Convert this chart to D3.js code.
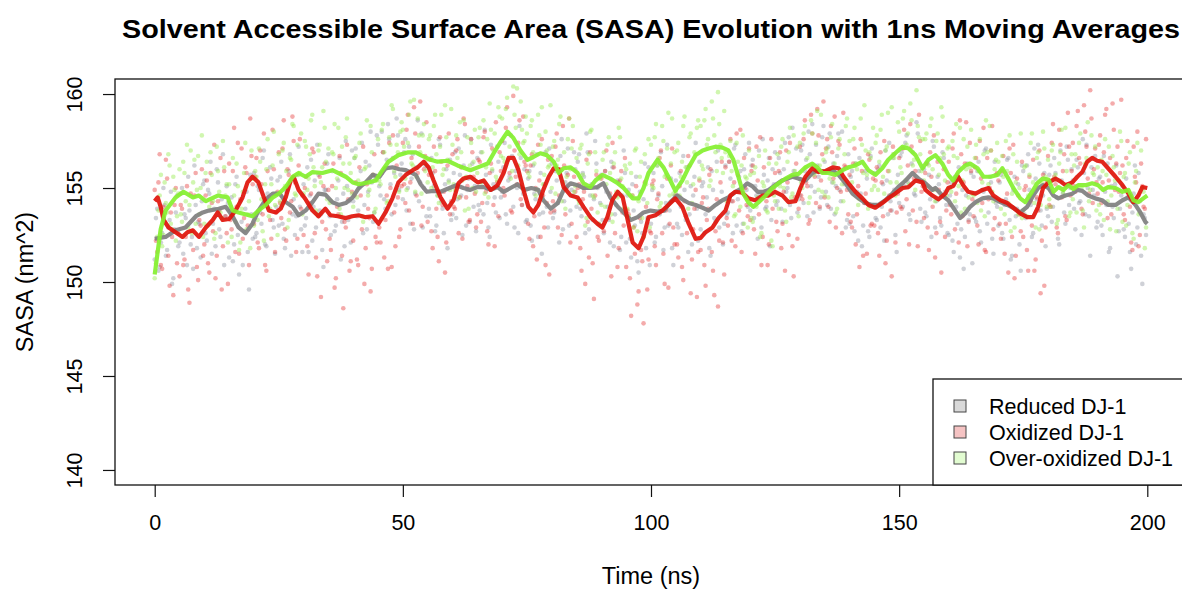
<!DOCTYPE html>
<html>
<head>
<meta charset="utf-8">
<script src="https://cdn.jsdelivr.net/npm/d3@7"></script>
<style>
  body { margin: 0; background: #fff; }
  text { font-family: "Liberation Sans", Arial, Helvetica, sans-serif; fill: #000; }
</style>
</head>
<body>
<div id="chart"></div>
<script>
const seriesNames = ["Reduced DJ-1", "Oxidized DJ-1", "Over-oxidized DJ-1"];
const xTicks = [0, 50, 100, 150, 200];
const yTicks = [140, 145, 150, 155, 160];
const frameStep = 0.5; // ns between frames of one set; set B is offset by half a step

// raw SASA frames (nm^2), set A at 0, 0.5, 1 ... ns
const reducedRaw = [
  151.2,153.9,150.8,152.6,154.1,151.7,153.3,149.9,152.8,154.6,
  152.1,155.0,153.6,150.9,153.8,152.4,156.2,151.8,153.1,154.3,
  155.4,152.2,154.7,151.5,153.9,156.0,152.8,154.4,150.9,155.1,
  151.3,154.5,152.0,155.6,150.4,153.2,152.7,154.8,149.6,153.6,
  155.8,152.6,154.9,153.1,157.0,151.9,154.3,155.5,152.9,154.0,
  153.0,156.4,152.3,154.8,155.9,151.4,154.4,153.5,157.2,152.8,
  155.2,153.4,151.6,156.5,154.0,152.9,155.7,153.6,150.8,154.9,
  156.8,152.5,154.2,153.0,155.4,151.2,154.7,157.5,153.3,152.1,
  154.3,157.1,153.8,155.9,152.6,156.4,154.8,158.0,153.2,155.5,
  157.3,154.6,156.9,153.9,158.4,155.2,156.6,154.1,157.8,155.7,
  154.4,157.6,155.0,153.1,156.8,154.7,158.6,155.3,152.9,156.2,
  156.1,153.5,155.8,152.7,154.6,157.3,153.9,155.2,151.8,156.5,
  153.6,156.9,154.4,155.7,152.5,157.8,154.9,153.2,156.3,155.1,
  156.6,153.8,155.3,158.1,154.2,152.4,155.9,154.5,157.2,153.4,
  154.8,157.4,153.1,155.6,156.7,152.9,155.0,158.3,154.1,156.0,
  153.3,155.9,152.2,154.7,156.8,153.6,151.5,155.2,154.0,157.1,
  156.3,153.7,155.4,152.1,157.6,154.3,155.8,153.0,154.9,156.9,
  154.0,156.8,153.5,155.6,157.9,152.8,155.2,154.4,156.3,153.1,
  155.7,152.6,154.8,153.3,156.4,151.9,154.1,155.3,152.4,157.0,
  152.1,154.9,151.3,153.8,155.6,150.5,153.2,154.4,151.8,156.1,
  153.1,155.8,152.4,154.6,156.9,151.7,154.2,153.0,155.5,150.9,
  155.4,152.9,154.0,156.7,153.3,151.6,155.1,154.6,157.4,152.2,
  152.8,155.3,153.6,156.1,151.4,154.9,153.2,157.0,154.3,152.0,
  156.2,153.7,155.5,152.6,157.3,154.4,155.9,153.1,156.8,154.0,
  153.8,156.5,155.1,152.3,154.7,157.6,153.9,155.4,151.9,156.0,
  156.9,154.3,155.8,153.2,157.4,155.0,154.1,158.2,155.6,153.7,
  154.6,157.3,155.9,153.5,156.8,158.4,154.8,156.2,153.9,157.7,
  156.4,154.1,157.9,155.3,153.6,156.7,154.9,158.0,155.2,153.3,
  153.1,155.9,152.7,154.8,156.6,151.9,154.2,155.5,152.4,157.1,
  155.8,153.3,156.2,154.0,152.2,155.4,157.4,153.8,154.9,151.6,
  154.2,156.9,155.1,157.8,153.6,156.3,154.7,158.5,155.9,153.2,
  156.0,153.5,155.7,152.4,157.2,154.3,155.2,153.0,156.6,154.1,
  152.5,155.3,151.6,154.0,156.1,152.8,150.7,154.6,153.3,155.8,
  155.6,153.2,156.4,152.1,154.8,157.1,153.7,155.3,151.5,154.2,
  153.0,155.7,152.3,154.4,156.6,151.2,154.9,153.5,155.2,150.6,
  155.9,153.4,156.8,154.1,152.6,155.5,157.3,153.8,154.6,151.9,
  153.5,156.2,154.0,155.8,152.3,157.0,154.7,153.1,156.5,155.0,
  155.4,152.8,156.1,154.3,157.6,153.6,155.0,151.4,154.9,156.7,
  153.2,155.6,152.5,154.8,156.3,151.8,154.0,155.2,150.3,153.9,
  155.1,152.4,154.5,151.6,153.7,156.2,152.9,154.3,149.9,153.4
];
const oxidizedRaw = [
  154.9,151.6,156.8,150.7,153.2,155.5,149.8,152.4,154.1,151.0,
  150.3,153.9,151.2,155.1,148.9,152.7,154.6,150.8,153.3,156.0,
  152.0,155.4,150.5,154.2,157.3,151.4,153.8,149.6,155.9,152.6,
  156.3,152.8,158.2,154.0,151.5,157.1,153.4,155.8,150.9,156.7,
  153.1,156.6,151.8,155.2,157.9,150.6,154.5,152.3,156.0,153.7,
  156.9,153.4,158.6,152.2,155.7,154.3,157.5,151.6,156.2,153.9,
  152.5,155.6,150.4,154.7,156.9,151.3,153.5,149.2,155.1,152.8,
  154.9,151.7,156.3,150.2,153.6,155.8,148.6,152.9,154.4,151.1,
  152.2,155.3,150.9,154.6,157.2,151.8,153.9,149.5,155.7,152.4,
  155.6,152.1,156.9,153.3,150.7,155.0,157.8,151.9,154.5,152.8,
  157.4,154.2,158.9,155.3,153.1,157.9,155.8,159.6,154.0,156.7,
  153.2,156.5,151.8,155.9,152.4,157.7,154.1,150.5,156.2,153.6,
  156.8,153.9,157.6,154.5,152.3,158.4,155.1,153.3,156.9,154.7,
  153.6,156.4,154.2,158.0,152.7,155.8,157.1,151.9,155.3,156.9,
  157.5,154.6,159.3,155.8,153.7,157.0,155.2,158.6,154.1,156.4,
  155.9,152.3,156.8,153.5,151.2,155.4,157.6,152.9,154.2,150.4,
  156.7,153.8,157.9,154.6,152.5,156.2,155.0,158.7,153.1,155.6,
  152.4,155.2,150.6,154.8,156.5,151.3,153.9,149.1,155.7,152.2,
  155.5,152.7,157.0,153.4,150.3,156.1,154.6,151.8,155.9,153.0,
  150.8,153.6,148.2,152.9,155.1,149.5,151.7,147.8,154.0,151.2,
  152.6,155.4,150.9,154.7,157.0,151.5,153.8,149.7,156.2,152.9,
  154.6,151.3,155.9,150.1,153.5,156.7,149.4,152.8,154.9,151.6,
  151.7,154.5,149.8,153.9,156.0,150.6,152.7,148.7,155.3,152.1,
  156.1,153.0,157.6,154.3,151.9,155.7,158.1,152.6,155.0,153.5,
  153.3,156.2,151.5,155.4,157.7,152.4,154.8,150.9,156.6,153.9,
  155.8,152.7,156.9,153.1,150.6,155.3,157.4,151.9,154.5,152.3,
  157.2,154.4,158.6,155.1,153.3,157.9,155.6,159.2,154.0,156.8,
  154.5,157.6,153.2,156.9,158.8,155.0,157.3,152.6,156.2,154.9,
  155.7,152.9,157.1,153.6,150.8,155.9,154.2,151.5,156.5,153.1,
  153.0,156.1,151.4,155.3,157.5,152.2,154.6,150.3,156.8,153.7,
  156.6,153.9,158.1,154.4,152.0,157.2,155.5,153.2,158.9,154.8,
  153.4,156.3,151.7,155.6,157.8,152.6,154.9,150.5,156.0,153.8,
  156.4,153.6,157.9,154.7,152.1,156.8,155.3,158.5,153.2,155.9,
  153.5,156.6,152.0,155.5,158.2,151.6,154.4,157.0,152.8,155.7,
  155.4,152.3,156.7,153.1,150.5,155.8,157.3,151.4,154.6,152.7,
  152.4,155.1,150.6,154.3,156.5,151.2,153.8,149.4,155.7,152.9,
  156.7,154.0,158.4,155.2,152.6,157.3,155.9,153.5,159.0,154.6,
  157.4,154.8,159.1,156.3,153.6,158.0,155.5,160.2,154.2,157.1,
  154.7,157.8,155.3,158.9,153.4,156.6,159.5,154.9,157.2,155.8,
  156.2,153.3,157.5,154.0,151.7,155.6,158.0,152.5,155.1,153.9
];
const overOxidizedRaw = [
  150.2,152.4,154.6,151.9,155.3,153.7,156.2,152.8,154.9,153.5,
  156.0,153.2,155.8,157.3,154.1,152.6,156.5,154.9,153.6,157.8,
  153.1,156.4,154.0,155.7,152.3,157.2,154.8,153.4,156.1,155.2,
  155.2,152.4,154.6,156.3,151.7,153.9,155.8,152.8,154.3,157.0,
  153.0,155.6,157.1,154.4,152.2,156.0,153.5,155.2,158.0,154.7,
  156.8,154.1,157.4,155.9,153.3,156.5,158.3,154.6,155.7,157.9,
  154.7,157.2,155.5,158.6,156.1,153.8,157.0,155.3,159.1,156.4,
  157.1,154.3,156.8,155.0,158.2,153.6,156.3,157.7,154.9,155.8,
  154.0,156.7,155.4,157.9,153.2,156.1,154.6,158.3,155.7,153.9,
  157.6,155.2,158.4,156.0,154.3,157.3,159.2,155.6,156.9,158.0,
  158.1,155.5,157.4,159.6,156.2,154.8,158.7,156.9,157.8,155.9,
  155.3,157.8,156.1,158.9,154.6,157.2,155.7,159.4,156.5,154.9,
  157.3,154.9,156.6,158.5,155.4,153.8,157.7,156.2,155.0,158.1,
  155.8,158.2,156.9,154.7,157.6,159.5,156.0,157.9,155.4,158.8,
  158.7,156.4,159.8,157.2,155.9,158.9,160.3,156.8,158.1,157.5,
  157.9,155.6,158.6,156.3,154.9,157.8,159.3,155.7,157.0,156.2,
  155.0,157.5,156.2,158.4,154.3,156.9,155.6,158.7,157.1,154.8,
  156.6,154.2,157.3,155.0,153.4,156.8,158.1,154.5,155.9,153.1,
  154.1,156.9,155.2,157.7,153.6,156.3,154.8,158.2,155.5,153.9,
  156.0,153.5,155.8,152.9,157.1,154.3,156.4,152.4,155.2,157.6,
  157.3,155.0,158.4,156.6,154.2,157.5,155.7,159.0,156.3,154.7,
  154.8,157.4,155.6,158.3,156.1,153.9,157.9,155.2,156.8,158.6,
  158.3,156.0,159.2,157.6,155.4,158.7,156.9,160.1,157.3,155.8,
  156.9,154.4,157.5,155.1,153.6,156.4,154.0,157.8,155.6,152.9,
  155.7,153.2,156.1,154.5,152.4,155.3,157.0,153.7,154.9,151.9,
  154.3,156.8,155.1,157.6,153.8,156.4,158.2,154.7,155.9,157.2,
  157.4,155.0,158.3,156.6,154.5,157.9,155.8,159.1,156.2,154.8,
  154.6,157.1,155.5,158.4,156.3,153.9,157.6,155.2,156.8,158.7,
  157.5,155.3,158.2,156.0,154.4,157.3,159.4,155.7,156.9,154.9,
  155.1,157.8,156.4,158.9,154.7,157.2,155.9,159.3,156.6,155.3,
  158.0,155.8,159.1,157.3,155.2,158.6,156.5,160.2,157.7,155.9,
  155.4,157.9,156.2,158.7,154.9,157.5,155.7,159.3,156.8,154.6,
  157.2,154.8,156.7,158.4,155.1,153.7,157.6,156.0,154.5,158.1,
  154.6,157.3,155.9,153.8,156.8,158.6,155.2,157.0,154.3,156.5,
  156.4,153.9,155.6,157.5,154.2,152.7,156.8,155.3,153.6,157.9,
  153.8,156.2,154.6,157.4,155.3,152.9,156.9,154.1,158.0,155.6,
  156.5,154.0,157.3,155.7,153.3,156.9,154.8,158.2,155.2,153.7,
  154.4,156.8,155.1,157.9,153.8,156.3,158.5,154.9,155.8,157.2,
  156.1,153.6,155.9,157.6,154.3,152.8,156.7,155.4,153.9,158.0,
  153.2,155.8,154.1,156.9,152.6,155.3,157.4,153.7,155.0,151.8
];

// raw SASA frames, set B at 0.25, 0.75, 1.25 ... ns
const reducedRawB = [
  153.4,150.6,152.1,155.0,151.4,152.9,154.8,150.2,153.7,151.9,
  154.7,151.5,153.4,155.6,152.0,150.7,154.1,153.2,151.3,155.2,
  152.6,154.9,156.4,153.1,151.9,155.3,152.4,156.8,153.5,154.2,
  153.8,151.1,155.2,152.5,154.3,150.9,153.9,151.6,155.7,152.3,
  152.4,155.1,153.7,156.6,152.0,154.7,156.1,153.3,151.5,155.4,
  155.6,153.1,151.8,154.9,156.8,153.6,152.5,155.7,154.0,151.6,
  153.0,156.1,154.6,152.2,155.4,157.3,153.8,151.7,154.9,156.3,
  153.5,155.9,152.7,154.4,156.6,153.2,151.9,155.1,154.3,157.0,
  156.6,153.5,155.0,157.4,154.1,152.8,156.2,155.3,153.7,157.8,
  155.1,158.0,154.4,156.5,157.6,153.6,155.8,158.7,154.9,156.3,
  156.9,153.8,157.2,155.5,152.8,156.1,154.3,157.9,155.0,153.5,
  153.9,156.6,155.1,153.0,157.6,154.3,152.6,156.0,155.4,153.3,
  155.8,153.4,157.1,154.6,156.2,153.0,155.5,157.6,154.0,152.7,
  154.1,156.9,153.6,155.7,152.9,157.3,155.2,153.7,156.4,154.5,
  156.1,153.6,155.4,157.8,154.0,155.9,152.6,156.6,154.7,153.2,
  155.5,153.0,156.2,154.4,152.4,155.8,153.7,156.9,152.9,154.8,
  153.4,155.9,154.2,156.7,152.8,155.3,157.1,153.8,154.6,156.0,
  156.4,153.9,155.8,152.6,156.9,154.6,153.3,157.5,155.0,154.2,
  153.3,155.9,154.0,152.1,156.1,153.6,155.4,151.7,154.6,155.8,
  154.6,152.3,155.2,153.0,151.1,154.8,152.6,156.3,153.4,150.9,
  154.9,152.1,156.2,153.6,155.1,152.9,157.3,153.8,151.8,154.6,
  153.1,155.8,152.5,154.9,156.1,153.6,152.0,155.6,153.9,156.4,
  155.1,152.6,154.5,151.8,155.9,153.4,156.4,152.9,154.8,153.1,
  153.6,156.4,154.3,157.1,153.0,155.6,152.7,156.0,154.9,157.4,
  156.2,153.4,154.6,157.0,152.9,155.7,154.0,156.6,153.3,155.2,
  154.1,156.6,153.9,156.0,154.8,157.7,153.4,155.9,157.1,154.4,
  157.0,154.2,156.5,158.0,155.1,153.7,157.3,155.6,154.5,158.3,
  154.8,157.2,153.9,156.3,155.1,157.9,154.3,156.0,152.9,156.8,
  155.6,153.5,156.3,152.2,154.7,153.0,155.9,152.7,156.7,154.1,
  153.4,156.0,152.9,155.2,157.0,153.6,154.3,156.6,152.5,155.7,
  156.7,154.0,157.4,155.3,153.3,156.9,154.6,157.9,153.9,156.1,
  153.7,156.3,154.4,157.5,152.9,155.6,153.4,156.9,154.8,152.6,
  154.6,152.2,155.6,153.1,151.3,154.9,152.4,156.3,153.6,151.0,
  153.4,155.9,152.7,154.9,157.0,153.1,155.6,152.3,156.4,154.0,
  155.3,152.6,154.1,156.5,153.3,151.4,155.6,153.9,152.0,156.2,
  153.6,156.2,154.9,152.4,157.1,154.4,156.3,153.0,155.8,153.9,
  155.7,153.2,156.6,154.5,152.0,155.4,153.7,157.2,154.1,156.0,
  153.9,156.5,154.2,152.5,155.8,157.3,153.5,156.1,154.6,152.9,
  155.5,153.0,156.7,154.1,151.6,155.1,153.4,156.2,152.7,154.6,
  152.8,155.5,153.1,150.7,154.7,152.0,155.8,151.4,153.6,152.5
];
const oxidizedRawB = [
  152.2,155.3,150.9,154.0,156.5,151.4,153.7,149.3,155.0,152.6,
  154.1,150.9,152.4,149.6,154.7,151.7,155.8,150.1,153.0,151.4,
  154.6,151.0,155.8,152.7,150.2,154.3,156.6,151.9,153.5,149.9,
  153.3,155.9,151.6,157.4,154.4,152.3,156.1,153.0,158.7,155.2,
  155.6,152.1,157.0,153.6,150.9,155.9,153.3,158.1,151.6,154.8,
  154.2,157.1,152.8,156.0,153.7,158.8,155.3,152.3,157.6,154.6,
  155.0,151.9,154.2,157.1,152.6,150.3,155.6,153.2,156.3,151.1,
  152.3,155.1,149.7,154.0,156.7,151.4,153.2,157.3,150.6,154.8,
  154.6,151.2,156.1,152.8,149.9,155.2,153.4,150.7,156.8,152.1,
  152.9,155.8,151.3,154.6,157.4,150.8,153.7,156.2,152.4,155.1,
  155.2,158.1,153.8,156.6,159.3,154.6,157.2,153.0,156.0,158.5,
  155.7,152.7,157.2,153.9,151.1,156.4,154.8,152.1,157.9,154.3,
  154.0,157.0,152.6,156.1,158.7,154.5,153.2,157.6,155.6,152.9,
  156.5,153.2,157.7,154.8,152.0,156.3,154.1,158.5,153.5,155.9,
  155.0,158.2,156.5,153.8,159.9,155.6,157.4,154.4,158.8,156.2,
  153.1,156.2,151.9,155.0,157.3,152.4,154.6,150.9,156.5,153.7,
  154.3,157.2,152.9,156.0,158.3,153.6,155.7,152.1,157.5,154.8,
  155.0,151.8,154.4,149.9,153.2,156.9,151.0,154.6,152.4,155.6,
  153.0,155.9,151.4,154.7,157.4,152.6,150.8,155.4,153.7,156.6,
  153.8,150.2,154.6,151.5,148.8,153.4,151.1,155.3,149.6,152.7,
  155.2,151.9,154.4,156.6,152.6,149.9,155.5,153.1,157.1,152.0,
  152.0,155.1,150.8,154.3,152.6,156.2,151.2,153.9,149.2,155.4,
  154.2,150.9,153.3,155.7,151.6,149.3,154.4,152.2,156.4,150.4,
  153.4,156.4,152.2,155.3,157.9,153.8,151.6,156.6,154.1,157.1,
  155.9,152.8,157.2,153.6,150.9,156.1,154.3,152.0,157.6,155.0,
  153.2,155.9,151.8,154.8,157.0,152.5,155.6,150.3,156.3,153.9,
  154.6,157.6,155.3,153.1,158.9,156.2,154.2,157.8,155.4,159.6,
  157.1,154.0,158.3,155.5,152.9,157.5,154.8,159.0,156.1,153.6,
  153.2,156.3,152.0,155.1,157.6,151.4,154.7,156.8,153.0,155.5,
  155.4,152.6,156.9,153.5,151.0,155.9,153.8,157.2,152.1,154.7,
  154.0,157.1,152.7,156.2,158.4,153.8,155.9,151.9,157.5,155.1,
  155.8,152.9,156.9,154.0,151.3,156.4,153.2,157.5,152.4,155.3,
  154.1,157.1,152.8,155.7,158.6,153.5,156.3,151.9,157.4,154.4,
  156.1,153.0,157.5,154.2,151.7,156.6,155.0,158.3,153.4,155.8,
  153.1,155.9,151.5,154.7,157.1,152.4,150.2,155.5,153.6,156.4,
  154.9,151.7,155.6,153.0,150.6,154.5,157.0,152.2,149.8,155.3,
  154.1,157.4,155.6,152.9,158.1,154.5,156.8,153.3,157.2,155.9,
  155.1,158.3,156.6,153.9,159.4,157.2,154.7,158.7,156.0,155.3,
  157.3,154.2,156.9,159.2,155.4,153.6,158.1,156.3,154.8,159.7,
  153.6,156.6,154.5,152.1,157.2,155.3,151.9,156.3,154.0,157.6
];
const overOxidizedRawB = [
  151.0,153.8,155.7,152.5,154.2,156.8,153.1,155.6,152.2,154.7,
  153.6,156.4,154.3,152.9,157.0,155.3,153.1,156.7,155.0,152.4,
  155.8,153.0,156.9,154.3,152.6,155.9,153.7,157.5,154.6,152.1,
  154.0,156.6,153.2,155.1,152.1,154.8,157.4,153.6,151.8,155.5,
  155.9,153.3,156.4,152.7,155.2,157.6,153.9,156.2,154.1,152.5,
  154.3,157.0,155.1,152.9,156.6,158.4,154.7,157.3,155.8,153.6,
  157.5,154.9,156.8,158.9,155.1,153.6,157.3,156.1,158.2,154.4,
  154.2,156.9,158.4,155.5,153.9,157.2,155.0,158.7,156.3,154.7,
  156.6,154.5,157.4,153.5,156.0,158.6,154.9,156.9,153.7,155.4,
  155.4,158.1,156.9,154.2,157.7,159.4,155.9,157.3,154.8,158.5,
  157.2,154.9,158.9,156.3,159.7,155.6,157.8,154.7,158.4,156.5,
  157.6,155.0,158.3,156.8,154.2,158.9,156.0,157.7,155.3,159.2,
  155.2,157.8,154.5,156.9,158.6,155.6,153.9,157.4,156.4,154.8,
  157.7,155.3,158.6,156.1,154.5,158.1,157.0,155.6,159.3,156.7,
  156.6,159.2,157.9,155.5,160.4,158.2,156.2,159.6,157.4,158.8,
  155.8,158.3,156.9,154.6,158.9,157.3,155.2,158.0,156.1,159.4,
  157.2,154.7,156.5,158.8,155.3,153.9,157.6,156.0,158.3,155.1,
  154.4,157.1,155.7,153.0,156.3,158.0,154.6,156.9,153.7,155.5,
  156.5,154.0,157.3,155.8,153.2,156.9,154.5,157.7,155.1,156.2,
  153.9,156.3,154.6,157.0,152.7,155.6,153.4,156.8,154.2,152.9,
  155.1,157.7,156.2,154.0,158.3,155.6,157.1,154.6,158.7,156.9,
  157.0,154.6,156.4,158.8,155.3,157.7,154.2,156.9,158.2,155.5,
  156.2,158.6,157.3,155.1,159.6,157.8,155.9,158.4,156.6,159.1,
  154.3,156.7,155.9,153.5,157.4,154.8,156.2,153.1,155.5,157.0,
  153.4,155.8,154.0,156.7,152.6,155.1,153.8,156.3,152.2,154.6,
  156.3,153.9,157.2,155.0,153.2,156.9,154.5,157.8,155.6,153.5,
  155.3,157.9,156.1,154.2,158.6,155.7,157.4,154.9,158.9,156.5,
  156.9,154.5,157.7,155.3,153.7,157.1,155.9,154.3,158.3,156.1,
  155.0,157.6,156.3,154.1,158.7,155.8,157.0,153.9,156.6,158.2,
  157.4,154.9,158.1,155.6,157.0,159.0,155.3,156.8,154.6,158.5,
  156.1,158.7,155.4,157.9,159.5,156.2,154.9,158.3,156.8,157.6,
  157.6,155.1,158.3,156.0,154.3,157.9,156.6,158.8,155.4,157.1,
  155.0,157.5,154.3,156.6,158.2,155.4,153.9,157.2,156.1,154.7,
  156.6,154.2,157.6,155.3,153.5,156.9,158.3,154.8,156.0,157.4,
  154.3,156.7,153.6,155.9,157.8,154.7,152.9,156.4,155.0,153.4,
  156.1,153.5,155.7,157.9,154.2,156.6,152.8,155.3,157.1,154.0,
  154.4,157.0,155.5,153.1,156.3,158.1,154.6,155.9,153.5,156.8,
  156.2,153.7,157.4,155.0,152.9,156.6,154.3,157.8,155.7,153.8,
  154.1,156.5,153.3,155.7,157.2,154.6,156.1,152.7,155.4,157.5,
  155.6,153.0,156.3,154.4,152.3,155.9,153.6,157.0,154.8,152.9
];

// 1 ns moving averages, [time (ns), SASA]
const reducedAvg = [[0,152.3],[2.2,152.4],[4.2,152.75],[6.2,152.9],[8.3,153.5],[9.7,153.7],[10.9,153.8],[12.9,153.9],[14.3,154.0],[15.7,153.5],[16.9,152.9],[18.3,152.6],[19.7,153.1],[20.9,153.8],[22.4,154.4],[23.8,154.7],[25.2,154.7],[26.4,154.25],[27.8,154.0],[29,153.55],[30.4,153.8],[31.8,154.25],[33,154.7],[34.4,154.65],[35.8,154.25],[37.1,154.1],[38.5,154.2],[39.9,154.5],[41.1,155.0],[42.5,155.3],[43.9,155.7],[45.3,155.6],[46.5,156.05],[47.9,156.1],[49.3,156.0],[50.6,155.95],[52.6,155.7],[53.6,155.2],[54.8,154.8],[56.2,154.85],[57.6,154.8],[59.4,155.0],[60.8,155.15],[62.2,155.0],[63.6,154.9],[65,155.05],[66.3,155.05],[67.7,154.9],[69.1,155.05],[70.3,154.8],[71.7,155.0],[73.1,155.2],[74.5,154.9],[75.9,155.0],[77.3,154.9],[78.3,154.35],[79.8,153.9],[81.2,154.2],[82.4,154.9],[83.8,155.25],[85.2,155.15],[86.4,155.0],[87.8,155.0],[89.2,155.05],[90.4,155.25],[91.8,154.5],[93.3,154.0],[94.5,153.7],[95.9,153.3],[97.3,153.45],[98.5,153.7],[99.9,153.8],[101.3,153.75],[102.7,153.8],[103.9,154.25],[105.3,154.6],[106.3,154.4],[107.6,154.2],[109,154.1],[110.4,153.95],[111.6,153.8],[113,154.1],[114.4,154.35],[115.6,154.5],[117,154.8],[118.4,155.0],[119.4,155.25],[120.4,155.1],[121.5,154.8],[122.7,154.8],[123.7,154.9],[125,155.15],[126.4,155.4],[127.5,155.5],[128.5,155.6],[129.7,155.5],[131.1,155.4],[132.5,155.8],[133.7,155.95],[135.1,155.85],[136.6,155.95],[137.8,155.7],[139.2,155.25],[140.6,154.7],[141.8,154.45],[143.2,154.2],[144.6,154.1],[145.8,154.1],[147.2,154.35],[148.6,154.7],[149.8,155.05],[151.3,155.4],[152.7,155.8],[153.9,155.5],[155.3,155.25],[156.7,154.9],[157.3,155.0],[158.7,154.6],[159.9,154.35],[161.3,153.8],[162.3,153.4],[163.3,153.65],[164.3,154.0],[165.4,154.25],[166.8,154.45],[168,154.5],[169,154.45],[170.4,154.25],[171.8,154.1],[173,153.95],[174.4,153.7],[175.8,154.0],[177,154.6],[178,155.0],[179,155.15],[180.1,155.0],[181.1,154.6],[182.1,154.45],[183.5,154.6],[184.9,154.7],[185.9,154.9],[186.9,154.85],[188.1,154.6],[189.5,154.45],[190.9,154.35],[192.1,154.1],[193.6,154.1],[195,154.35],[196.2,154.5],[197.6,154.1],[198.6,153.7],[199.6,153.2],[200,153.1]];
const oxidizedAvg = [[0,154.3],[0.6,154.5],[1.2,154.0],[1.8,153.3],[2.8,152.9],[4.2,152.65],[5.6,152.4],[6.6,152.65],[7.7,152.75],[8.9,152.4],[10.3,152.9],[11.7,153.3],[12.7,153.7],[13.7,153.3],[15,153.35],[16.3,153.8],[17.7,154.5],[18.7,155.3],[19.7,155.6],[20.9,155.3],[22,154.5],[23,153.8],[24.4,153.7],[25.4,153.9],[26.4,154.5],[27.4,155.4],[28,155.6],[29,154.9],[30.4,154.4],[31.8,153.8],[33,153.5],[34.4,153.9],[35.4,153.55],[36.9,153.5],[38.5,153.4],[39.8,153.5],[41.1,153.55],[42.5,153.45],[43.9,153.5],[45.1,153.1],[46.5,153.7],[47.9,154.45],[49.1,155.3],[50.6,155.7],[52,155.95],[53,156.1],[54.2,156.4],[55.2,156.1],[56.2,155.4],[57.6,154.5],[59,153.9],[60.2,154.35],[61.2,155.25],[62.2,155.5],[63.6,155.6],[65.1,155.3],[66.3,155.4],[67.7,154.9],[69.1,155.15],[70.3,155.8],[71.3,156.6],[72.3,156.6],[73.3,155.95],[74.3,154.9],[75.3,154.0],[76.3,153.7],[77.3,154.1],[78.3,154.9],[79.4,155.6],[80.4,156.05],[81.4,156.0],[82.4,155.05],[83.8,154.6],[85.2,154.5],[86.4,154.0],[87.8,153.45],[89.2,153.1],[90.2,152.9],[91.2,153.45],[92.2,154.35],[93.3,154.8],[94.3,154.5],[95.3,153.3],[96.3,152.1],[97.5,151.8],[98.5,152.4],[99.5,153.45],[100.9,153.55],[102.3,153.8],[103.5,154.1],[104.9,154.45],[106.3,154.0],[107.6,153.1],[109,152.3],[110,152.35],[111,152.65],[112.4,152.9],[113.6,153.4],[115,153.8],[116,154.6],[117,154.8],[118.4,154.75],[119.6,154.45],[121,154.35],[122.5,154.6],[123.7,154.6],[125,154.8],[126.5,154.6],[127.7,154.25],[129.1,154.3],[130.1,155.0],[131.1,155.6],[132.5,156.05],[133.7,155.85],[135.1,155.9],[136.6,156.1],[137.8,156.05],[138.8,155.6],[139.8,155.25],[141.2,154.8],[142.6,154.45],[143.8,154.1],[145.2,153.95],[146.6,154.2],[147.8,154.45],[149.2,154.7],[150.7,155.0],[151.9,155.05],[153.3,155.4],[154.7,155.3],[155.3,154.9],[156.7,154.6],[157.9,154.4],[159.3,154.7],[159.9,155.0],[160.9,155.1],[161.9,155.6],[162.9,155.15],[163.9,154.8],[165.4,154.7],[166.8,154.9],[168,155.0],[169,154.6],[170.4,154.35],[171.8,154.2],[173,153.95],[174.4,153.65],[175.8,153.45],[177,153.45],[178,154.0],[179,155.0],[180.1,155.3],[181.5,155.5],[182.5,155.35],[183.5,155.15],[184.9,155.3],[185.9,155.6],[186.9,155.85],[187.9,156.4],[188.9,156.6],[189.9,156.45],[190.9,156.4],[192.1,156.05],[193.6,155.6],[195,155.15],[196.2,154.7],[197.2,154.25],[198.2,154.6],[199,155.05],[200,155.0]];
const overOxidizedAvg = [[0,150.4],[1.2,152.8],[2.2,153.8],[4.2,154.5],[5.8,154.8],[7.7,154.5],[8.9,154.6],[10.3,154.3],[12.7,154.6],[14.7,154.5],[15.7,153.8],[16.9,153.7],[19.7,153.5],[20.9,153.8],[22.4,154.1],[23.8,154.5],[25,154.7],[26.4,155.05],[27.8,155.6],[29,155.8],[30.4,155.6],[31.8,155.85],[33.8,155.8],[35.8,155.95],[38.5,155.6],[39.9,155.3],[41.1,155.2],[43.1,155.3],[44.5,155.4],[45.9,155.95],[47.1,156.4],[49.1,156.75],[51.1,156.9],[52.6,156.9],[53.6,156.75],[55.6,156.5],[57,156.4],[59,156.45],[61,156.2],[63.6,155.95],[65.1,156.1],[67.1,156.3],[68.3,156.85],[69.7,157.45],[71.1,158.0],[72.3,157.65],[73.7,157.0],[75.1,156.5],[76.3,156.65],[77.7,156.85],[79,156.75],[80.4,156.4],[81.4,155.8],[82.4,156.05],[83.8,156.1],[85.2,155.8],[86.4,155.25],[87.8,155.05],[88.8,155.4],[90.2,155.7],[91.8,155.5],[93.3,155.25],[94.5,155.0],[96.3,154.45],[97.5,154.45],[98.5,155.0],[99.5,155.8],[101.3,156.5],[102.5,156.1],[103.9,155.4],[104.9,154.85],[106.3,155.4],[107.6,156.1],[109,156.75],[110.4,157.0],[111.6,157.1],[113,157.2],[114.4,157.15],[115.6,157.0],[116.6,156.5],[117.6,155.6],[118.6,154.7],[119.6,154.25],[120.6,154.0],[121.7,154.25],[123.1,154.6],[124.5,155.0],[125.7,155.25],[127.1,155.5],[128.5,155.7],[129.7,155.75],[131.1,156.1],[132.5,156.3],[133.5,156.1],[134.5,155.8],[135.7,155.8],[137.2,155.7],[138.6,155.95],[139.8,156.1],[141.2,156.2],[142.6,156.4],[143.8,155.95],[145.2,155.7],[146.6,156.05],[147.8,156.5],[149.2,156.85],[150.7,157.2],[151.9,157.1],[153.3,156.75],[154.7,156.05],[155.9,156.5],[157.3,156.75],[158.7,156.3],[159.9,155.7],[160.9,155.4],[161.9,155.85],[163.3,156.2],[164.3,156.3],[165.8,156.05],[167,155.6],[168.4,155.6],[169.8,155.7],[170.8,156.05],[171.8,155.6],[173,155.0],[174.4,154.45],[175.4,154.25],[176.8,154.8],[177.8,155.25],[178.9,155.5],[180.1,155.45],[181.1,154.8],[182.1,155.05],[183.1,154.9],[184.1,155.15],[185.1,154.95],[186.1,155.15],[187.5,155.15],[188.9,155.25],[190.1,155.15],[191.1,154.9],[192.1,155.05],[193.6,155.0],[195,154.8],[196.2,154.9],[197.2,154.35],[198.2,154.25],[199.2,154.45],[200,154.6]];

const series = [
  { name: seriesNames[0], raw: [reducedRaw, reducedRawB], avg: reducedAvg,
    dot: "rgba(140,145,160,0.42)", line: "#7f7f7f", key: "#d9d9d9" },
  { name: seriesNames[1], raw: [oxidizedRaw, oxidizedRawB], avg: oxidizedAvg,
    dot: "rgba(228,45,45,0.4)", line: "#e0120a", key: "#f5c3c3" },
  { name: seriesNames[2], raw: [overOxidizedRaw, overOxidizedRawB], avg: overOxidizedAvg,
    dot: "rgba(150,235,80,0.45)", line: "#84f02f", key: "#e2fcd1" }
];

const width = 1182, height = 590;
const box = { left: 115, right: 1187, top: 79, bottom: 485 };

const svg = d3.select("#chart").append("svg")
  .attr("width", width)
  .attr("height", height);

// R pads the axis ranges by 4%
const x = d3.scaleLinear().domain([-8, 208]).range([box.left, box.right]);
const y = d3.scaleLinear().domain([139.2, 160.8]).range([box.bottom, box.top]);

svg.append("defs").append("clipPath").attr("id", "plot-clip")
  .append("rect")
    .attr("x", box.left).attr("y", box.top)
    .attr("width", box.right - box.left).attr("height", box.bottom - box.top);

const plotLayer = svg.append("g").attr("clip-path", "url(#plot-clip)");

// raw frames first, so the averages sit on top
series.forEach(function (s) {
  s.raw.forEach(function (frames, k) {
    const offset = k * frameStep / 2;
    plotLayer.append("g").selectAll("circle")
      .data(frames)
      .enter().append("circle")
        .attr("cx", function (d, i) { return x(offset + i * frameStep); })
        .attr("cy", function (d) { return y(d); })
        .attr("r", 2.3)
        .attr("fill", s.dot);
  });
});

const line = d3.line()
  .x(function (d) { return x(d[0]); })
  .y(function (d) { return y(d[1]); });

series.forEach(function (s) {
  plotLayer.append("path")
    .attr("d", line(s.avg))
    .attr("fill", "none")
    .attr("stroke", s.line)
    .attr("stroke-width", 4.2)
    .attr("stroke-linejoin", "round")
    .attr("stroke-opacity", 0.92);
});

// frame
svg.append("rect")
  .attr("x", box.left).attr("y", box.top)
  .attr("width", box.right - box.left).attr("height", box.bottom - box.top)
  .attr("fill", "none").attr("stroke", "#111").attr("stroke-width", 1.3);

// axes
const xAxis = svg.append("g")
  .attr("transform", "translate(0," + box.bottom + ")")
  .call(d3.axisBottom(x).tickValues(xTicks).tickSize(12).tickSizeOuter(0));
xAxis.select(".domain").remove();
xAxis.selectAll(".tick line").attr("stroke", "#111").attr("stroke-width", 1.2);
xAxis.selectAll(".tick text")
  .attr("font-size", 21.5)
  .attr("font-family", "Liberation Sans, Arial, sans-serif")
  .attr("dy", 0)
  .attr("y", 45);

const yAxis = svg.append("g")
  .attr("transform", "translate(" + box.left + ",0)")
  .call(d3.axisLeft(y).tickValues(yTicks).tickSize(12).tickSizeOuter(0));
yAxis.select(".domain").remove();
yAxis.selectAll(".tick line").attr("stroke", "#111").attr("stroke-width", 1.2);
yAxis.selectAll(".tick text")
  .attr("font-size", 21.5)
  .attr("font-family", "Liberation Sans, Arial, sans-serif")
  .attr("text-anchor", "middle")
  .attr("transform", "rotate(-90)")
  .attr("x", 0)
  .attr("y", -33)
  .attr("dy", 0);

// titles
svg.append("text")
  .attr("x", (box.left + box.right) / 2)
  .attr("y", 38)
  .attr("text-anchor", "middle")
  .attr("font-weight", "bold")
  .attr("font-size", 25)
  .attr("textLength", 1058)
  .attr("lengthAdjust", "spacingAndGlyphs")
  .text("Solvent Accessible Surface Area (SASA) Evolution with 1ns Moving Averages");

svg.append("text")
  .attr("x", (box.left + box.right) / 2)
  .attr("y", 584)
  .attr("text-anchor", "middle")
  .attr("font-size", 23.5)
  .text("Time (ns)");

svg.append("text")
  .attr("transform", "translate(33," + ((box.top + box.bottom) / 2) + ") rotate(-90)")
  .attr("text-anchor", "middle")
  .attr("font-size", 23.5)
  .text("SASA (nm^2)");

// legend
const legend = svg.append("g").attr("transform", "translate(933,379)");
legend.append("rect")
  .attr("width", 300).attr("height", box.bottom - 379)
  .attr("fill", "#fff").attr("stroke", "#111").attr("stroke-width", 1.3);
const legendItem = legend.selectAll(".item")
  .data(series)
  .enter().append("g")
    .attr("class", "item")
    .attr("transform", function (d, i) { return "translate(0," + (27 + i * 26) + ")"; });
legendItem.append("rect")
  .attr("x", 21).attr("y", -6)
  .attr("width", 12).attr("height", 12)
  .attr("fill", function (d) { return d.key; })
  .attr("stroke", "#444").attr("stroke-width", 1);
legendItem.append("text")
  .attr("x", 56)
  .attr("dy", "0.36em")
  .attr("font-size", 21.5)
  .text(function (d) { return d.name; });
</script>
</body>
</html>
